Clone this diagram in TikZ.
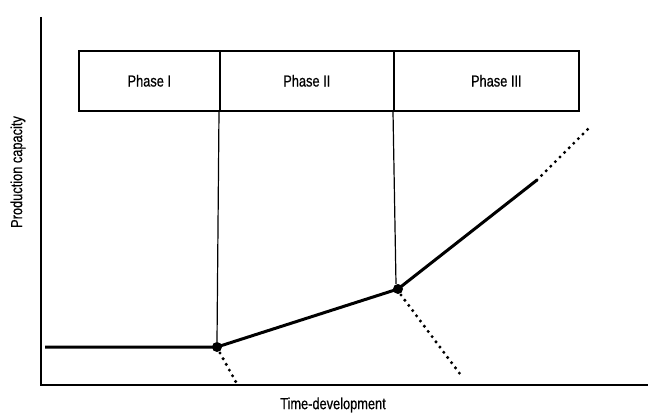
\documentclass[tikz,border=0pt]{standalone}
\usepackage{fontspec}
\setmainfont{Liberation Sans}[FakeStretch=0.8,FakeBold=0.6]
\begin{document}
\begin{tikzpicture}[x=1pt,y=-1pt,
  axis/.style={line width=2.2pt},
  phasebox/.style={draw,line width=1.6pt,minimum height=60pt,inner sep=0pt,font=\fontsize{16}{18}\selectfont},
  divider/.style={line width=1.2pt},
  growth/.style={line width=3pt},
  trend/.style={line width=3.4pt,dash pattern=on 0pt off 6.5pt,line cap=round},
  knot/.style={circle,fill=black,inner sep=0pt,minimum size=10pt},
  lbl/.style={font=\fontsize{16}{18}\selectfont}]
\useasboundingbox (0,0) rectangle (648,414);
% axes
\coordinate (o) at (41,385);
\coordinate (ytop) at (41,17);
\coordinate (xend) at (648,385);
\draw[axis] (ytop) -- (o) -- (xend);
% phase header
\node[phasebox,minimum width=141pt,anchor=north west] (p1) at (78,50) {Phase I};
\node[phasebox,minimum width=174pt,anchor=north west] (p2) at (219,50) {Phase II};
\node[phasebox,minimum width=185pt,anchor=north west] (p3) at (393,50) {\hspace*{20pt}Phase III};
% transition points
\node[knot] (k1) at (217,347) {};
\node[knot] (k2) at (398,289) {};
\draw[divider] (p2.south west) -- (k1.north);
\draw[divider] (p3.south west) -- (396,284);
% capacity path
\coordinate (start) at (45,347);
\coordinate (bend) at (537,180);
\coordinate (outlook) at (590,127);
\coordinate (d1) at (237,384);
\coordinate (d2) at (463,378);
\draw[growth] (start) -- (k1.center) -- (k2.center) -- (bend);
\draw[trend] (bend) -- (outlook);
\draw[trend] (k1.center) ++(3,6) -- (d1);
\draw[trend] (k2.center) ++(3,6) -- (d2);
% axis labels
\node[lbl,rotate=90] (ylab) at (18,172) {Production capacity};
\node[lbl] (xlab) at (333,405) {Time-development};
\end{tikzpicture}
\end{document}
